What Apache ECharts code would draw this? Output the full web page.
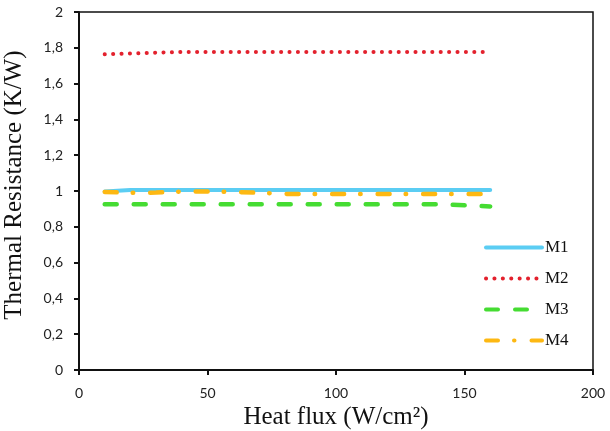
<!DOCTYPE html>
<html>
<head>
	<meta charset="utf-8" />
	<title>Thermal Resistance</title>
	<script type="text/javascript" src="https://cdn.jsdelivr.net/npm/echarts@6/dist/echarts.min.js"></script>
	<style>
		html, body {margin:0;padding:0;background:#fff;}
		#chart {width:610px;height:431px;}
	</style>
</head>
<body>
	<div id="chart"></div>

	<script>
		// heat flux (W/cm2)
		var heatFlux = [10, 20, 30, 40, 50, 60, 70, 80, 90, 100, 110, 120, 130, 140, 150, 160];

		// thermal resistance (K/W)
		var m1 = [0.997, 1.005, 1.006, 1.006, 1.006, 1.006, 1.006, 1.006, 1.006, 1.006, 1.006, 1.006, 1.006, 1.006, 1.006, 1.006];
		var m2 = [1.764, 1.768, 1.773, 1.777, 1.777, 1.777, 1.777, 1.777, 1.777, 1.777, 1.777, 1.777, 1.777, 1.777, 1.777, 1.777];
		var m3 = [0.926, 0.926, 0.926, 0.926, 0.926, 0.926, 0.926, 0.926, 0.926, 0.926, 0.926, 0.926, 0.926, 0.926, 0.920, 0.914];
		var m4 = [0.995, 0.990, 0.991, 0.997, 0.997, 0.995, 0.990, 0.984, 0.983, 0.983, 0.983, 0.983, 0.983, 0.983, 0.983, 0.983];

		var seriesNames = ['M1', 'M2', 'M3', 'M4'];

		function pairs(ys) {
			return heatFlux.map((x, i) => [x, ys[i]]);
		}

		var chart = echarts.init(document.getElementById('chart'));

		var tickFont = {fontFamily: 'Lato', fontSize: 14, color: '#222'};

		var option = {
			animation: false,
			grid: {
				left: 79, right: 17, top: 12, bottom: 61,
				outerBoundsMode: 'none',
				show: true, borderColor: '#111', borderWidth: 1.5
			},
			legend: {
				orient: 'vertical',
				left: 479,
				top: 234,
				itemWidth: 56,
				itemHeight: 14,
				itemGap: 14,
				itemStyle: {opacity: 0},
				lineStyle: {width: 4},
				textStyle: {fontFamily: 'Liberation Serif', fontSize: 17, color: '#111', padding: [0, 0, 0, -2]},
				data: seriesNames
			},
			xAxis: {
				type: 'value',
				min: 0,
				max: 200,
				interval: 50,
				name: 'Heat flux (W/cm²)',
				nameLocation: 'middle',
				nameGap: 29,
				nameTextStyle: {fontFamily: 'Liberation Serif', fontSize: 25, color: '#111'},
				axisLine: {lineStyle: {color: '#111', width: 2}},
				axisTick: {show: true, length: 5, lineStyle: {color: '#111', width: 2}},
				axisLabel: Object.assign({margin: 16}, tickFont),
				splitLine: {show: false}
			},
			yAxis: {
				type: 'value',
				min: 0,
				max: 2,
				interval: 0.2,
				name: 'Thermal Resistance (K/W)',
				nameLocation: 'middle',
				nameGap: 52,
				nameTextStyle: {fontFamily: 'Liberation Serif', fontSize: 25, color: '#111', padding: [0, 0, 0, 12]},
				axisLine: {show: true, lineStyle: {color: '#111', width: 2}},
				axisTick: {show: true, length: 5, lineStyle: {color: '#111', width: 2}},
				axisLabel: Object.assign({
					margin: 16,
					formatter: v => String(Math.round(v * 10) / 10).replace('.', ',')
				}, tickFont),
				splitLine: {show: false}
			},
			series: [
				{
					name: 'M1',
					type: 'line',
					data: pairs(m1),
					symbol: 'none',
					lineStyle: {color: '#5bcdf3', width: 4, cap: 'round'},
					itemStyle: {color: '#5bcdf3'}
				},
				{
					name: 'M2',
					type: 'line',
					data: pairs(m2),
					symbol: 'none',
					lineStyle: {color: '#e3212d', width: 4, type: [0.1, 8.3], cap: 'round'},
					itemStyle: {color: '#e3212d'}
				},
				{
					name: 'M3',
					type: 'line',
					data: pairs(m3),
					symbol: 'none',
					lineStyle: {color: '#45dc32', width: 4.5, type: [12, 17], cap: 'round'},
					itemStyle: {color: '#45dc32'}
				},
				{
					name: 'M4',
					type: 'line',
					data: pairs(m4),
					symbol: 'none',
					lineStyle: {color: '#fdb812', width: 4.5, type: [12, 16, 0.5, 17], cap: 'round'},
					itemStyle: {color: '#fdb812'}
				}
			]
		};

		chart.setOption(option);
		window.addEventListener('resize', chart.resize);
	</script>
</body>
</html>
